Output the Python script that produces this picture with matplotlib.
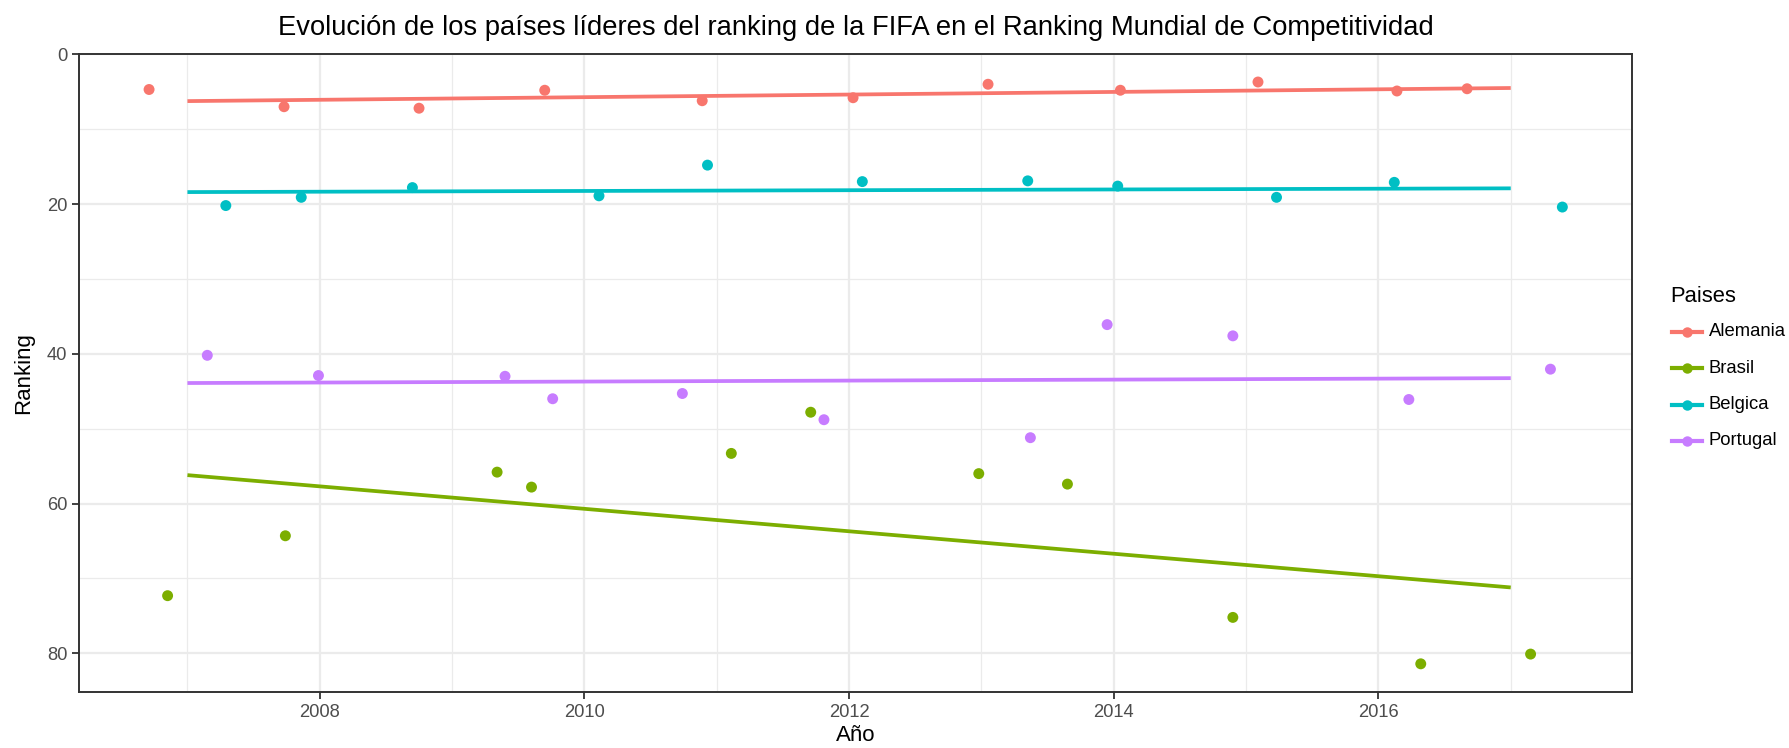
import numpy as np
import matplotlib
matplotlib.use("Agg")
from matplotlib import pyplot as plt
from matplotlib.lines import Line2D

plt.rcParams['font.family'] = ['Liberation Sans', 'DejaVu Sans']

paises = ["Alemania", "Brasil", "Belgica", "Portugal"]
colores = ["#F8766D", "#7CAE00", "#00BFC4", "#C77CFF"]

# puntos (con jitter)
anio_alemania = [2006.71, 2007.73, 2008.75, 2009.70, 2010.89, 2012.03, 2013.05, 2014.05, 2015.09, 2016.14, 2016.67]
rank_alemania = [4.7, 7.0, 7.2, 4.8, 6.2, 5.8, 4.0, 4.8, 3.7, 4.9, 4.6]
anio_brasil = [2006.85, 2007.74, 2009.34, 2009.60, 2011.11, 2011.71, 2012.98, 2013.65, 2014.90, 2016.32, 2017.15]
rank_brasil = [72.3, 64.3, 55.8, 57.8, 53.3, 47.8, 56.0, 57.4, 75.2, 81.4, 80.1]
anio_belgica = [2007.29, 2007.86, 2008.70, 2010.11, 2010.93, 2012.10, 2013.35, 2014.03, 2015.23, 2016.12, 2017.39]
rank_belgica = [20.2, 19.1, 17.8, 18.9, 14.8, 17.0, 16.9, 17.6, 19.1, 17.1, 20.4]
anio_portugal = [2007.15, 2007.99, 2009.40, 2009.76, 2010.74, 2011.81, 2013.37, 2013.95, 2014.90, 2016.23, 2017.30]
rank_portugal = [40.2, 42.9, 43.0, 46.0, 45.3, 48.8, 51.2, 36.1, 37.6, 46.1, 42.05]

# recta de tendencia (lm) entre 2007 y 2017
tend_anios = [2007, 2017]
tend_alemania = [6.25, 4.5]
tend_brasil = [56.2, 71.2]
tend_belgica = [18.4, 17.9]
tend_portugal = [43.9, 43.25]

anios = [anio_alemania, anio_brasil, anio_belgica, anio_portugal]
ranks = [rank_alemania, rank_brasil, rank_belgica, rank_portugal]
tends = [tend_alemania, tend_brasil, tend_belgica, tend_portugal]

W, H = 1790, 748
fig = plt.figure(figsize=(W / 100, H / 100), dpi=100)
ax = fig.add_axes([0.0441, 0.0745, 0.912 - 0.0441, 0.9274 - 0.0745])

for x, y, t, c in zip(anios, ranks, tends, colores):
    ax.plot(tend_anios, t, color=c, lw=2.7, zorder=3, solid_capstyle='butt')
    ax.scatter(x, y, s=62, color=c, edgecolors='none', zorder=4)

ax.set_xlim(2006.18, 2017.92)
ax.set_ylim(85.2, 0)
ax.set_xticks([2008, 2010, 2012, 2014, 2016])
ax.set_xticks([2007, 2009, 2011, 2013, 2015, 2017], minor=True)
ax.set_yticks([0, 20, 40, 60, 80])
ax.set_yticks([10, 30, 50, 70], minor=True)
ax.grid(which='major', color='#EBEBEB', lw=1.6, zorder=0)
ax.grid(which='minor', color='#EBEBEB', lw=0.9, zorder=0)
ax.set_axisbelow(True)
ax.tick_params(which='major', direction='out', length=5, width=1.3, color='#333333',
               labelsize=13.2, labelcolor='#4D4D4D', pad=3.5)
ax.tick_params(which='minor', length=0)
for s in ax.spines.values():
    s.set_color('#333333')
    s.set_linewidth(1.4)

ax.set_xlabel("Año", fontsize=16, color='black')
ax.set_ylabel("Ranking", fontsize=16, color='black')
ax.xaxis.set_label_coords(0.5, -0.052)
ax.yaxis.set_label_coords(-0.029, 0.5)
ax.set_title("Evolución de los países líderes del ranking de la FIFA en el Ranking Mundial de Competitividad",
             fontsize=19.7, pad=14)

# leyenda a mano, estilo ggplot
fig.text(1670 / W, 1 - 297 / H, "Paises", fontsize=15.8, ha='left', va='center')
for i, (p, c) in enumerate(zip(paises, colores)):
    yy = 1 - (332 + i * 36.3) / H
    fig.add_artist(Line2D([1672 / W, 1702 / W], [yy, yy], color=c, lw=3, transform=fig.transFigure))
    fig.add_artist(Line2D([1687 / W], [yy], color=c, marker='o', markersize=7.5, markeredgewidth=0,
                          transform=fig.transFigure))
    fig.text(1709 / W, yy, p, fontsize=13.3, ha='left', va='center')

fig.savefig("out.png", dpi=100, facecolor='white')
